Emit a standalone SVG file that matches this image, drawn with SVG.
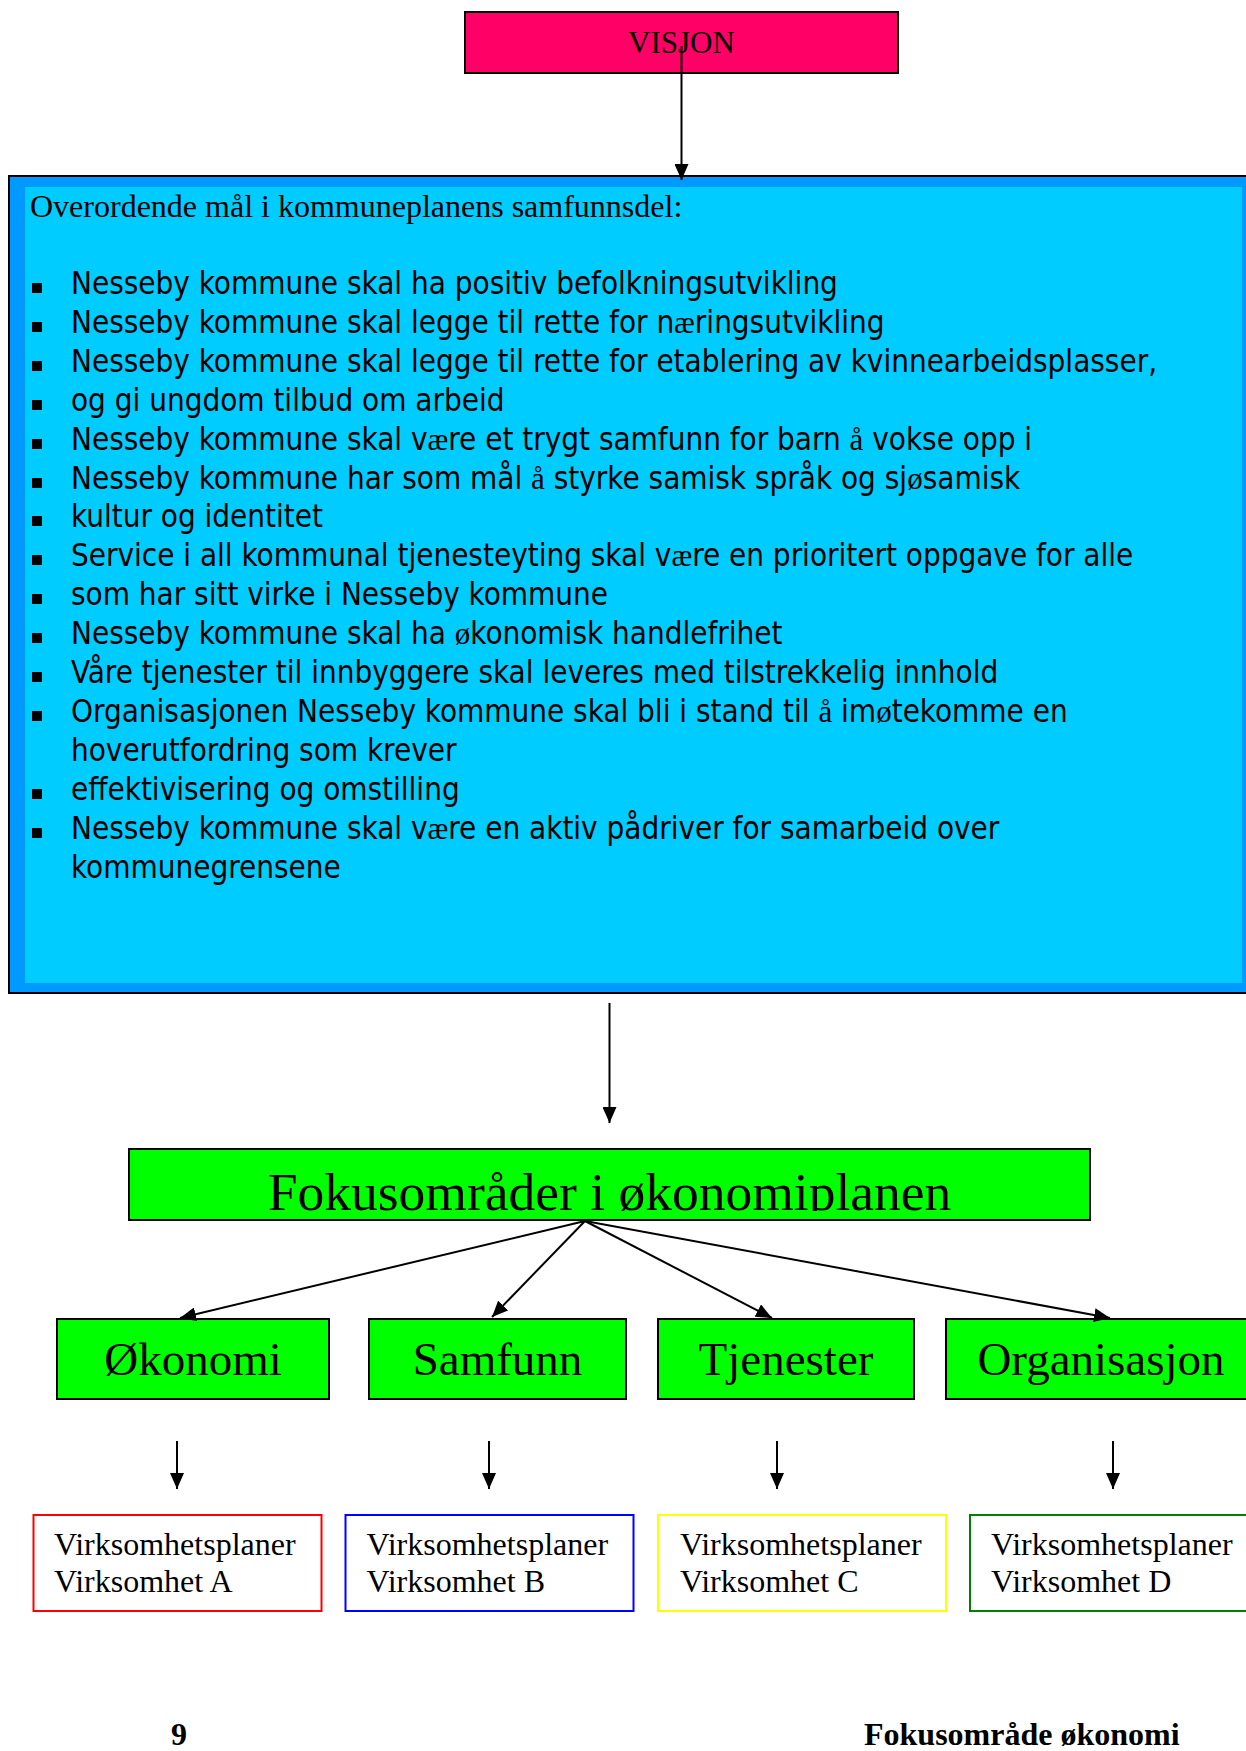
<svg xmlns="http://www.w3.org/2000/svg" width="1246" height="1751" viewBox="0 0 1246 1751">
<style>
.serif{font-family:"Liberation Serif","Times New Roman",serif;fill:#000}
.sans{font-family:"DejaVu Sans Condensed","DejaVu Sans",sans-serif;font-stretch:condensed;font-size:31.1px;fill:#000}
.s{font-family:"Liberation Serif","Times New Roman",serif}
.conn{stroke:#000;stroke-width:2;fill:none}
.gbox{fill:#00ff00;stroke:#000;stroke-width:2}
.vbox{fill:#fff;stroke-width:2}
.bul{fill:#000}
</style>
<defs>
<marker id="ah" viewBox="0 0 16 14" refX="16" refY="7" markerWidth="16" markerHeight="14" markerUnits="userSpaceOnUse" orient="auto">
<path d="M0,0 L16,7 L0,14 z" fill="#000"/>
</marker>
<clipPath id="fclip"><rect x="129" y="1149" width="961" height="62"/></clipPath>
</defs>
<rect width="1246" height="1751" fill="#fff"/>

<g id="visjon">
<rect x="465" y="12" width="433" height="61" fill="#ff0066" stroke="#000" stroke-width="2"/>
<text class="serif" x="681.5" y="53" font-size="31" text-anchor="middle">VISJON</text>
</g>

<g id="maal">
<rect x="9" y="176" width="1260" height="817" fill="#0099ff" stroke="#000" stroke-width="2"/>
<rect x="25" y="187" width="1217" height="796" fill="#00ccff"/>
<text class="serif" x="30" y="217" font-size="32">Overordende mål i kommuneplanens samfunnsdel:</text>
<g class="bullets">
<rect class="bul" x="32" y="283" width="10" height="10"/>
<rect class="bul" x="32" y="322" width="10" height="10"/>
<rect class="bul" x="32" y="361" width="10" height="10"/>
<rect class="bul" x="32" y="400" width="10" height="10"/>
<rect class="bul" x="32" y="439" width="10" height="10"/>
<rect class="bul" x="32" y="478" width="10" height="10"/>
<rect class="bul" x="32" y="516" width="10" height="10"/>
<rect class="bul" x="32" y="555" width="10" height="10"/>
<rect class="bul" x="32" y="594" width="10" height="10"/>
<rect class="bul" x="32" y="633" width="10" height="10"/>
<rect class="bul" x="32" y="672" width="10" height="10"/>
<rect class="bul" x="32" y="711" width="10" height="10"/>
<rect class="bul" x="32" y="789" width="10" height="10"/>
<rect class="bul" x="32" y="828" width="10" height="10"/>
</g>
<text class="sans" x="71" y="294">Nesseby kommune skal ha positiv befolkningsutvikling</text>
<text class="sans" x="71" y="333">Nesseby kommune skal legge til rette for n<tspan class="s">æ</tspan>ringsutvikling</text>
<text class="sans" x="71" y="372">Nesseby kommune skal legge til rette for etablering av kvinnearbeidsplasser,</text>
<text class="sans" x="71" y="411">og gi ungdom tilbud om arbeid</text>
<text class="sans" x="71" y="450">Nesseby kommune skal v<tspan class="s">æ</tspan>re et trygt samfunn for barn <tspan class="s">å</tspan> vokse opp i</text>
<text class="sans" x="71" y="489">Nesseby kommune har som mål <tspan class="s">å</tspan> styrke samisk språk og sj<tspan class="s">ø</tspan>samisk</text>
<text class="sans" x="71" y="527">kultur og identitet</text>
<text class="sans" x="71" y="566">Service i all kommunal tjenesteyting skal v<tspan class="s">æ</tspan>re en prioritert oppgave for alle</text>
<text class="sans" x="71" y="605">som har sitt virke i Nesseby kommune</text>
<text class="sans" x="71" y="644">Nesseby kommune skal ha <tspan class="s">ø</tspan>konomisk handlefrihet</text>
<text class="sans" x="71" y="683">Våre tjenester til innbyggere skal leveres med tilstrekkelig innhold</text>
<text class="sans" x="71" y="722">Organisasjonen Nesseby kommune skal bli i stand til <tspan class="s">å</tspan> im<tspan class="s">ø</tspan>tekomme en</text>
<text class="sans" x="71" y="761">hoverutfordring som krever</text>
<text class="sans" x="71" y="800">effektivisering og omstilling</text>
<text class="sans" x="71" y="839">Nesseby kommune skal v<tspan class="s">æ</tspan>re en aktiv pådriver for samarbeid over</text>
<text class="sans" x="71" y="878">kommunegrensene</text>
</g>

<g id="fokus">
<rect class="gbox" x="129" y="1149" width="961" height="71"/>
<text class="serif" x="609.5" y="1210" font-size="53.5" text-anchor="middle" clip-path="url(#fclip)">Fokusområder i økonomiplanen</text>
</g>

<g id="okonomi">
<rect class="gbox" x="57" y="1319" width="272" height="80"/>
<text class="serif" x="193" y="1375" font-size="47" text-anchor="middle">Økonomi</text>
</g>
<g id="samfunn">
<rect class="gbox" x="369" y="1319" width="257" height="80"/>
<text class="serif" x="497.5" y="1375" font-size="47" text-anchor="middle">Samfunn</text>
</g>
<g id="tjenester">
<rect class="gbox" x="658" y="1319" width="256" height="80"/>
<text class="serif" x="786" y="1375" font-size="47" text-anchor="middle">Tjenester</text>
</g>
<g id="organisasjon">
<rect class="gbox" x="946" y="1319" width="320" height="80"/>
<text class="serif" x="1101" y="1375" font-size="47" text-anchor="middle">Organisasjon</text>
</g>

<g id="virksomhetA">
<rect class="vbox" x="33.5" y="1515" width="288" height="96" stroke="#ff0000"/>
<text class="serif" x="54" y="1555" font-size="32">Virksomhetsplaner</text>
<text class="serif" x="54" y="1592" font-size="32">Virksomhet A</text>
</g>
<g id="virksomhetB">
<rect class="vbox" x="345.5" y="1515" width="288" height="96" stroke="#0000ff"/>
<text class="serif" x="366.5" y="1555" font-size="32">Virksomhetsplaner</text>
<text class="serif" x="366.5" y="1592" font-size="32">Virksomhet B</text>
</g>
<g id="virksomhetC">
<rect class="vbox" x="658" y="1515" width="288" height="96" stroke="#ffff00"/>
<text class="serif" x="680" y="1555" font-size="32">Virksomhetsplaner</text>
<text class="serif" x="680" y="1592" font-size="32">Virksomhet C</text>
</g>
<g id="virksomhetD">
<rect class="vbox" x="970" y="1515" width="300" height="96" stroke="#008000"/>
<text class="serif" x="991" y="1555" font-size="32">Virksomhetsplaner</text>
<text class="serif" x="991" y="1592" font-size="32">Virksomhet D</text>
</g>

<g id="connectors">
<line class="conn" x1="681.5" y1="46" x2="681.5" y2="180" marker-end="url(#ah)"/>
<line class="conn" x1="609.5" y1="1003" x2="609.5" y2="1123" marker-end="url(#ah)"/>
<line class="conn" x1="585" y1="1221" x2="180" y2="1318" marker-end="url(#ah)"/>
<line class="conn" x1="585" y1="1221" x2="492" y2="1317" marker-end="url(#ah)"/>
<line class="conn" x1="585" y1="1221" x2="772" y2="1318" marker-end="url(#ah)"/>
<line class="conn" x1="585" y1="1221" x2="1110" y2="1318" marker-end="url(#ah)"/>
<line class="conn" x1="177" y1="1441" x2="177" y2="1489" marker-end="url(#ah)"/>
<line class="conn" x1="489" y1="1441" x2="489" y2="1489" marker-end="url(#ah)"/>
<line class="conn" x1="777" y1="1441" x2="777" y2="1489" marker-end="url(#ah)"/>
<line class="conn" x1="1113" y1="1441" x2="1113" y2="1489" marker-end="url(#ah)"/>
</g>

<g id="footer">
<text class="serif" x="171" y="1745" font-size="32" font-weight="bold">9</text>
<text class="serif" x="864" y="1745" font-size="32" font-weight="bold">Fokusområde økonomi</text>
</g>
</svg>
